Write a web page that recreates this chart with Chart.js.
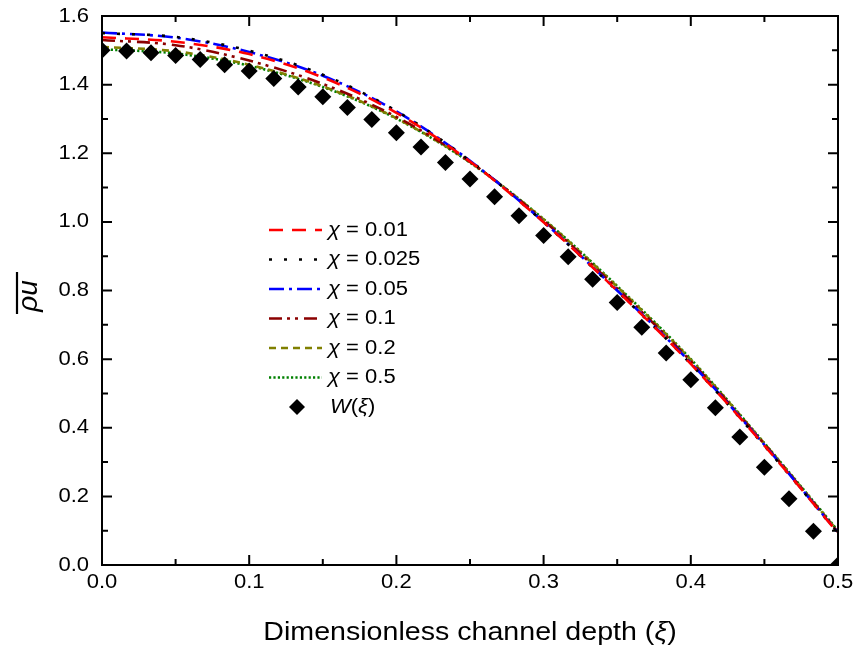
<!DOCTYPE html>
<html lang="es">
<head>
<meta charset="utf-8">
<title>Perfil de flujo másico</title>
<script src="https://cdn.jsdelivr.net/npm/chart.js@4.4.1/dist/chart.umd.min.js"></script>
<style>
  html, body { margin: 0; padding: 0; background: #fff; }
  #contenedor { width: 858px; height: 655px; position: relative; }
</style>
</head>
<body>
<div id="contenedor"><canvas id="graficoPerfil"></canvas></div>
<script>
// Profundidad adimensional del canal (xi) para las curvas
const xi = [0, 0.05, 0.1, 0.15, 0.2, 0.25, 0.3, 0.35, 0.4, 0.45, 0.5];

// Flujo másico medio para cada valor de chi
const chi001  = [1.538, 1.525, 1.489, 1.421, 1.318, 1.176, 0.999, 0.799, 0.586, 0.348, 0.093];
const chi0025 = [1.550, 1.539, 1.499, 1.429, 1.323, 1.178, 0.999, 0.798, 0.586, 0.347, 0.093];
const chi005  = [1.552, 1.537, 1.495, 1.426, 1.322, 1.178, 1.000, 0.800, 0.589, 0.350, 0.094];
const chi01   = [1.530, 1.515, 1.470, 1.402, 1.306, 1.175, 1.004, 0.806, 0.594, 0.352, 0.096];
const chi02   = [1.510, 1.497, 1.458, 1.395, 1.302, 1.174, 1.007, 0.811, 0.598, 0.354, 0.098];
const chi05   = [1.503, 1.491, 1.455, 1.393, 1.301, 1.173, 1.008, 0.813, 0.600, 0.355, 0.100];

// Perfil de referencia W(xi)
const xiW = [0, 0.0167, 0.0333, 0.05, 0.0667, 0.0833, 0.1, 0.1167, 0.1333, 0.15, 0.1667,
             0.1833, 0.2, 0.2167, 0.2333, 0.25, 0.2667, 0.2833, 0.3, 0.3167, 0.3333,
             0.35, 0.3667, 0.3833, 0.4, 0.4167, 0.4333, 0.45, 0.4667, 0.4833, 0.5];
const perfilW = [1.500, 1.498, 1.493, 1.485, 1.473, 1.458, 1.440, 1.418, 1.393, 1.365, 1.333,
                 1.298, 1.260, 1.218, 1.173, 1.125, 1.073, 1.018, 0.960, 0.898, 0.833,
                 0.765, 0.693, 0.618, 0.540, 0.458, 0.373, 0.285, 0.193, 0.098, 0.000];

const valoresChi = ['0.01', '0.025', '0.05', '0.1', '0.2', '0.5'];
const seriesChi = [chi001, chi0025, chi005, chi01, chi02, chi05];

// Estilos de línea de cada curva
const coloresChi = ['#ff0000', '#000000', '#0000ff', '#8b0000', '#808000', '#008000'];
const trazosChi = [[14, 9], [3, 12], [15, 5, 3, 5], [13, 5, 3, 5, 3, 6], [7, 5], [2.2, 2.2]];

const FUENTE = "'Liberation Sans', Arial, sans-serif";
const ANCHO_TEXTO = 1.1; // el texto del gráfico es algo más ancho que Arial

// Escribe varios tramos de texto seguidos (cada uno con su fuente)
function escribir(ctx, partes, x, y, alinear) {
    ctx.save();
    ctx.textBaseline = 'middle';
    ctx.textAlign = 'left';
    let total = 0;
    partes.forEach(p => { ctx.font = p.f; total += ctx.measureText(p.t).width; });
    let inicio = 0;
    if (alinear === 'center') inicio = -total / 2;
    if (alinear === 'right') inicio = -total;
    ctx.translate(x, y);
    ctx.scale(ANCHO_TEXTO, 1);
    partes.forEach(p => {
        ctx.font = p.f;
        ctx.fillText(p.t, inicio, 0);
        inicio += ctx.measureText(p.t).width;
    });
    ctx.restore();
}

const datasets = seriesChi.map((serie, i) => ({
    label: 'χ = ' + valoresChi[i],
    data: xi.map((x, j) => ({ x: x, y: serie[j] })),
    showLine: true,
    borderColor: coloresChi[i],
    backgroundColor: coloresChi[i],
    borderWidth: 2.6,
    borderDash: trazosChi[i],
    pointRadius: 0,
    cubicInterpolationMode: 'monotone',
    clip: 0,
    order: 2
}));

datasets.push({
    label: 'W(ξ)',
    data: xiW.map((x, j) => ({ x: x, y: perfilW[j] })),
    showLine: false,
    pointStyle: 'rectRot',
    pointRadius: 8.5,
    pointBackgroundColor: '#000',
    pointBorderColor: '#000',
    pointBorderWidth: 0,
    clip: 0,
    order: 1
});

// Marco, marcas hacia dentro, etiquetas, títulos y leyenda
const ejesPlugin = {
    id: 'ejesPlugin',
    afterDraw(chart) {
        const { ctx, chartArea: a, scales: { x, y } } = chart;
        ctx.save();
        ctx.fillStyle = '#000';
        ctx.strokeStyle = '#000';

        // marco
        ctx.lineWidth = 2;
        ctx.strokeRect(a.left, a.top, a.right - a.left, a.bottom - a.top);

        // marcas mayores y menores
        const marcas = (escala) => {
            const lista = [];
            escala.ticks.forEach((t, i) => {
                lista.push({ v: t.value, mayor: true });
                if (i < escala.ticks.length - 1) {
                    lista.push({ v: (t.value + escala.ticks[i + 1].value) / 2, mayor: false });
                }
            });
            return lista;
        };
        ctx.beginPath();
        marcas(x).forEach(m => {
            const px = x.getPixelForValue(m.v);
            const l = m.mayor ? 10 : 6;
            ctx.moveTo(px, a.bottom); ctx.lineTo(px, a.bottom - l);
            ctx.moveTo(px, a.top); ctx.lineTo(px, a.top + l);
        });
        marcas(y).forEach(m => {
            const py = y.getPixelForValue(m.v);
            const l = m.mayor ? 10 : 6;
            ctx.moveTo(a.left, py); ctx.lineTo(a.left + l, py);
            ctx.moveTo(a.right, py); ctx.lineTo(a.right - l, py);
        });
        ctx.stroke();

        // etiquetas de los ejes
        const fTick = '20px ' + FUENTE;
        x.ticks.forEach(t => {
            escribir(ctx, [{ t: t.value.toFixed(1), f: fTick }], x.getPixelForValue(t.value), a.bottom + 17, 'center');
        });
        y.ticks.forEach(t => {
            escribir(ctx, [{ t: t.value.toFixed(1), f: fTick }], a.left - 13, y.getPixelForValue(t.value), 'right');
        });

        // título del eje x
        escribir(ctx, [
            { t: 'Dimensionless channel depth (', f: '26px ' + FUENTE },
            { t: 'ξ', f: 'italic 26px ' + FUENTE },
            { t: ')', f: '26px ' + FUENTE }
        ], (a.left + a.right) / 2, 633, 'center');

        // título del eje y: rho u con barra encima
        ctx.save();
        ctx.translate(37, 296);
        ctx.rotate(-Math.PI / 2);
        ctx.font = 'italic 28px ' + FUENTE;
        ctx.textAlign = 'center';
        ctx.textBaseline = 'alphabetic';
        ctx.fillText('ρu', 0, 0);
        ctx.restore();
        ctx.lineWidth = 2.2;
        ctx.beginPath();
        ctx.moveTo(17, 272);
        ctx.lineTo(17, 314);
        ctx.stroke();

        // leyenda
        const fLey = '20px ' + FUENTE;
        const fLeyI = 'italic 20px ' + FUENTE;
        chart.data.datasets.forEach((ds, i) => {
            const yy = 230 + 29.5 * i;
            if (ds.showLine) {
                ctx.save();
                ctx.strokeStyle = ds.borderColor;
                ctx.lineWidth = ds.borderWidth;
                ctx.setLineDash(ds.borderDash);
                ctx.beginPath();
                ctx.moveTo(269, yy);
                ctx.lineTo(322, yy);
                ctx.stroke();
                ctx.restore();
                escribir(ctx, [{ t: 'χ', f: fLeyI }, { t: ' = ' + valoresChi[i], f: fLey }], 328, yy, 'left');
            } else {
                ctx.beginPath();
                ctx.moveTo(297, yy - 8);
                ctx.lineTo(305, yy);
                ctx.lineTo(297, yy + 8);
                ctx.lineTo(289, yy);
                ctx.closePath();
                ctx.fill();
                escribir(ctx, [
                    { t: 'W', f: fLeyI }, { t: '(', f: fLey },
                    { t: 'ξ', f: fLeyI }, { t: ')', f: fLey }
                ], 330, yy, 'left');
            }
        });
        ctx.restore();
    }
};

const ctxPerfil = document.getElementById('graficoPerfil').getContext('2d');
const graficoPerfil = new Chart(ctxPerfil, {
    type: 'scatter',
    data: { datasets: datasets },
    options: {
        responsive: true,
        maintainAspectRatio: false,
        animation: false,
        devicePixelRatio: 1,
        layout: { padding: { top: 16, right: 20, left: 0, bottom: 0 } },
        plugins: {
            legend: { display: false },
            tooltip: { enabled: false }
        },
        scales: {
            x: {
                type: 'linear',
                min: 0,
                max: 0.5,
                ticks: { display: false, stepSize: 0.1 },
                grid: { display: false, drawTicks: false },
                border: { display: false },
                afterFit: (s) => { s.height = 90; }
            },
            y: {
                type: 'linear',
                min: 0,
                max: 1.6,
                ticks: { display: false, stepSize: 0.2 },
                grid: { display: false, drawTicks: false },
                border: { display: false },
                afterFit: (s) => { s.width = 102; }
            }
        }
    },
    plugins: [ejesPlugin]
});
</script>
</body>
</html>
